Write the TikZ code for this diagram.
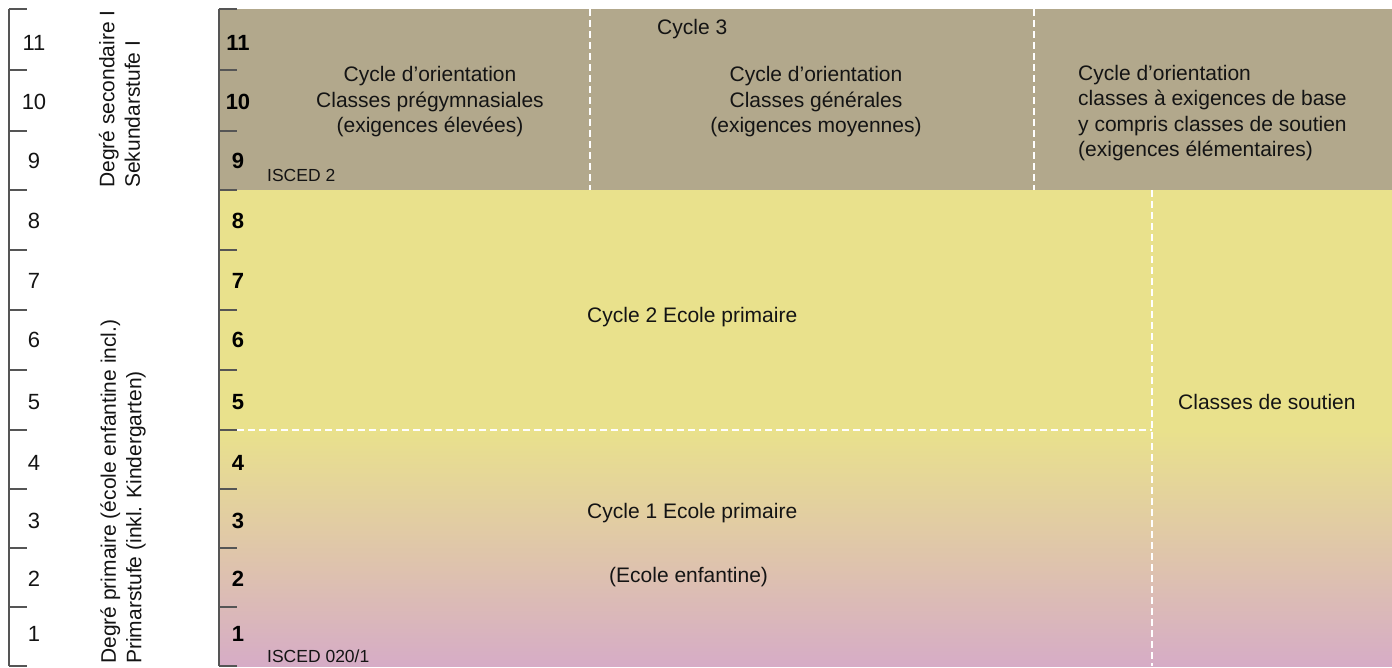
\documentclass[tikz,border=0pt]{standalone}
\usepackage{fontspec}
\setmainfont{Liberation Sans}
\definecolor{brownc}{RGB}{178,168,140}
\definecolor{yelc}{RGB}{233,225,140}
\definecolor{pinkc}{RGB}{214,172,198}
\definecolor{lineg}{RGB}{85,85,85}
\definecolor{txtc}{RGB}{20,20,20}
\begin{document}
\begin{tikzpicture}[x=1pt,y=-1pt,
  scaleline/.style={draw=lineg, line width=1.4pt},
  wdash/.style={draw=white, line width=1.5pt, dash pattern=on 7pt off 4pt},
  txt/.style={font=\fontsize{21}{25.5}\selectfont, inner sep=0pt, text=txtc},
  small/.style={font=\fontsize{17.5}{21}\selectfont, inner sep=0pt, text=txtc, anchor=base west},
  num/.style={font=\fontsize{22}{26}\selectfont, inner sep=0pt, text=txtc},
  bnum/.style={font=\fontsize{22}{26}\selectfont\bfseries, inner sep=0pt, text=black},
  vtxt/.style={font=\fontsize{21}{25.5}\selectfont, inner sep=0pt, text=txtc, rotate=90, align=left, anchor=west}]
\useasboundingbox (0,0) rectangle (1392,668);
% background regions
\fill[brownc] (219,9) rectangle (1392,190);
\fill[yelc] (219,190) rectangle (1392,430.5);
\shade[top color=yelc, bottom color=pinkc] (219,430) rectangle (1392,666);
% left scale
\draw[scaleline] (9,9) -- (9,666);
\draw[scaleline] (219,9) -- (219,666);
\foreach \yy in {9,70,131,190,250,310,370,430,489,548,607,666} {
  \draw[scaleline] (9,\yy) -- (27,\yy);
  \draw[scaleline] (219,\yy) -- (237,\yy);
}
% numbers
\foreach \n/\yy in {11/43,10/102,9/161,8/221,7/281,6/340,5/402,4/463,3/521,2/579,1/634} {
  \node[num] (l\n) at (34,\yy) {\n};
  \node[bnum] (r\n) at (238,\yy) {\n};
}
% dashed separators
\draw[wdash] (590,9) -- (590,190);
\draw[wdash] (1034,9) -- (1034,190);
\draw[wdash] (1152,190) -- (1152,666);
\draw[wdash] (237,430) -- (1152,430);
% vertical labels
\node[vtxt] (sec) at (119.5,188) {Degré secondaire I\\Sekundarstufe I};
\node[vtxt] (prim) at (123,664) {Degré primaire (école enfantine incl.)\\Primarstufe (inkl. Kindergarten)};
% texts (base anchor = baseline of last line)
\node[txt, align=center, anchor=base] (c1) at (430,133) {Cycle d’orientation\\Classes prégymnasiales\\(exigences élevées)};
\node[txt, align=center, anchor=base] (c2) at (816,133) {Cycle d’orientation\\Classes générales\\(exigences moyennes)};
\node[txt, align=left, anchor=base west] (c3) at (1078,157) {Cycle d’orientation\\classes à exigences de base\\y compris classes de soutien\\(exigences élémentaires)};
\node[txt, anchor=base west] (cy3) at (657,35) {Cycle 3};
\node[small] (is2) at (267,182) {ISCED 2};
\node[small] (is1) at (267,662) {ISCED 020/1};
\node[txt, anchor=base west] (cy2) at (587,323) {Cycle 2 Ecole primaire};
\node[txt, anchor=base west] (cy1) at (587,518) {Cycle 1 Ecole primaire};
\node[txt, anchor=base west] (ee) at (609,582) {(Ecole enfantine)};
\node[txt, anchor=base west] (cs) at (1178,409) {Classes de soutien};
\end{tikzpicture}
\end{document}
